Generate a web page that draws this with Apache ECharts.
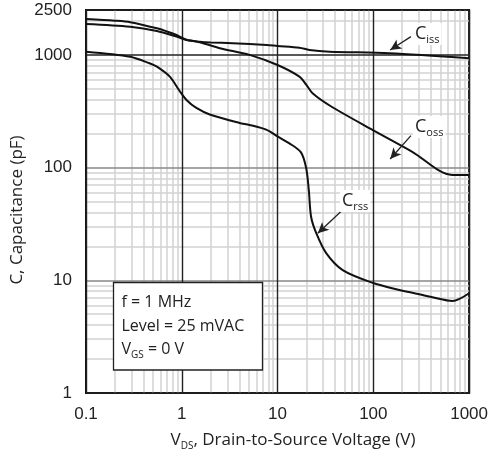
<!DOCTYPE html>
<html><head><meta charset="utf-8">
<script src="https://cdn.jsdelivr.net/npm/echarts@6/dist/echarts.min.js"></script>
<style>html,body{margin:0;padding:0;background:#fff}#c{width:491px;height:459px}</style>
</head><body><div id="c"></div>
<script>
// Axis ranges / ticks
const xMin = 0.1, xMax = 1000;
const yMin = 1, yMax = 2500;
const minorX = [0.2,0.3,0.4,0.5,0.6,0.7,0.8,0.9, 2,3,4,5,6,7,8,9, 20,30,40,50,60,70,80,90, 200,300,400,500,600,700,800,900];
const minorY = [2,3,4,5,6,7,8,9, 20,30,40,50,60,70,80,90, 200,300,400,500,600,700,800,900, 2000];

// Series values [VDS (V), C (pF)]
const ciss = [[0.1,2080],[0.2,2010],[0.29,1950],[0.55,1720],[0.75,1580],[0.88,1500],[1.12,1360],[1.54,1310],[2,1290],[3.4,1268],[7.7,1224],[10,1200],[16.9,1158],[21.5,1105],[35,1068],[147,1033],[1000,933]];
const coss = [[0.1,1880],[0.29,1778],[0.55,1629],[0.88,1451],[1.12,1356],[1.54,1294],[2.5,1145],[5.1,1000],[10,813],[16.9,641],[20,541],[23.2,456],[36,350],[98,216],[255,138],[665,86],[1000,86]];
const crss = [[0.1,1068],[0.29,964],[0.46,842],[0.55,786],[0.75,641],[0.95,478],[1.12,398],[1.42,338],[1.96,296],[4.0,249],[5.1,239],[7.7,216],[10,189],[13.3,164],[17.5,137],[19.9,99],[21.2,63],[22.4,36.6],[25.3,26.3],[32.2,17.4],[47.9,12.3],[98,9.5],[187,8.2],[255,7.76],[415,7.07],[670,6.55],[1000,7.67]];

// Annotation arrows [from, to] in data coordinates
const arrowCiss = [[247,1452],[150,1106]];
const arrowCoss = [[247,192],[150,119]];
const arrowCrss = [[49.9,43.5],[26.3,26.1]];

const tickFont = 'Liberation Sans, Arial, sans-serif';
const textFont = 'Open Sans, sans-serif';

const chart = echarts.init(document.getElementById('c'), null, {renderer:'canvas'});

function curve(name, data){
  return {name, type:'line', data, showSymbol:false, symbol:'none', smooth:0.3, z:3,
    lineStyle:{color:'#111', width:2}, silent:true, animation:false};
}

const gridLines = [].concat(minorX.map(v=>({xAxis:v})), minorY.map(v=>({yAxis:v})));

const arrowLine = a => [{coord:a[0]},{coord:a[1]}];
const fmt = v => String(Math.round(v*1000)/1000);

chart.setOption({
  animation:false,
  grid:{left:86, right:21, top:10, bottom:66, show:true, borderColor:'#111', borderWidth:2, backgroundColor:'#fff', z:0},
  xAxis:{type:'log', logBase:10, min:xMin, max:xMax, z:2,
    axisLine:{show:false}, axisTick:{show:false},
    axisLabel:{color:'#222', fontFamily:tickFont, fontSize:17, margin:13, formatter:fmt},
    splitLine:{show:true, lineStyle:{color:'#222', width:1.4}}},
  yAxis:{type:'log', logBase:10, min:yMin, max:yMax, z:2,
    axisLine:{show:false}, axisTick:{show:false},
    axisLabel:{color:'#222', fontFamily:tickFont, fontSize:17, margin:14, formatter:fmt},
    splitLine:{show:true, lineStyle:{color:['#222','#888','#888','#222','#222'], width:1.6}}},
  series:[
    {type:'line', data:[], z:1, silent:true,
      markLine:{z:1, silent:true, symbol:['none','none'], animation:false, label:{show:false},
        lineStyle:{color:'#d2d2d2', width:1.5, type:'solid'}, emphasis:{disabled:true},
        data:gridLines}},
    curve('Ciss', ciss),
    curve('Coss', coss),
    curve('Crss', crss),
    {type:'line', data:[], z:4, silent:true,
      markLine:{z:6, silent:true, symbol:['none','arrow'], symbolSize:[8,11], animation:false, label:{show:false},
        lineStyle:{color:'#222', width:1.3, type:'solid'}, emphasis:{disabled:true},
        data:[arrowLine(arrowCiss), arrowLine(arrowCoss), arrowLine(arrowCrss)]}}
  ],
  graphic:[
    {type:'text', x:17, y:210, rotation:Math.PI/2, z:10,
      style:{text:'C, Capacitance (pF)', font:'17px '+textFont, fill:'#222', align:'center', verticalAlign:'middle'}},
    {type:'text', x:293, y:440, z:10,
      style:{text:'{m|V}{s|DS}{m|, Drain-to-Source Voltage (V)}', align:'center', verticalAlign:'middle', fill:'#222',
        rich:{m:{fontFamily:textFont, fontSize:17, lineHeight:22, fill:'#222'}, s:{fontFamily:textFont, fontSize:10, lineHeight:22, verticalAlign:'bottom', fill:'#222'}}}},
    {type:'rect', z:10, shape:{x:113.5, y:282.5, width:149, height:87.5},
      style:{fill:'#fff', stroke:'#222', lineWidth:1.3}},
    {type:'text', x:121.5, y:302.5, z:11, style:{text:'f = 1 MHz', font:'16px '+textFont, fill:'#222', verticalAlign:'middle'}},
    {type:'text', x:121.5, y:326, z:11, style:{text:'Level = 25 mVAC', font:'16px '+textFont, fill:'#222', verticalAlign:'middle'}},
    {type:'text', x:121.5, y:349.5, z:11,
      style:{text:'{m|V}{s|GS}{m| = 0 V}', verticalAlign:'middle', fill:'#222',
        rich:{m:{fontFamily:textFont, fontSize:16, lineHeight:22, fill:'#222'}, s:{fontFamily:textFont, fontSize:10, lineHeight:22, verticalAlign:'bottom', fill:'#222'}}}},
    {type:'text', x:413, y:34, z:11,
      style:{text:'{c|C}{s|iss}', verticalAlign:'middle', backgroundColor:'#fff', padding:[0,2],
        rich:{c:{fontFamily:textFont, fontSize:18, lineHeight:22, fill:'#222'}, s:{fontFamily:textFont, fontSize:11, lineHeight:22, verticalAlign:'bottom', fill:'#222'}}}},
    {type:'text', x:413, y:127, z:11,
      style:{text:'{c|C}{s|oss}', verticalAlign:'middle', backgroundColor:'#fff', padding:[0,2],
        rich:{c:{fontFamily:textFont, fontSize:18, lineHeight:22, fill:'#222'}, s:{fontFamily:textFont, fontSize:11, lineHeight:22, verticalAlign:'bottom', fill:'#222'}}}},
    {type:'text', x:340, y:201, z:11,
      style:{text:'{c|C}{s|rss}', verticalAlign:'middle', backgroundColor:'#fff', padding:[0,2],
        rich:{c:{fontFamily:textFont, fontSize:18, lineHeight:22, fill:'#222'}, s:{fontFamily:textFont, fontSize:11, lineHeight:22, verticalAlign:'bottom', fill:'#222'}}}}
  ]
});
</script></body></html>
